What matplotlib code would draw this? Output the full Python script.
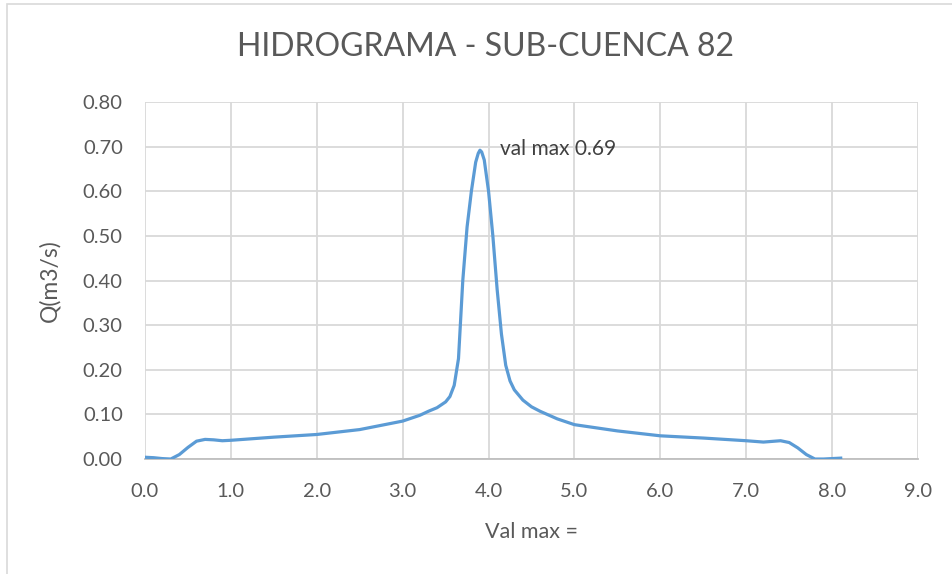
import matplotlib.pyplot as plt
from matplotlib.patches import Rectangle

plt.rcParams['font.family'] = ['Lato', 'DejaVu Sans']

# tiempo (h) y caudal (m3/s)
t = [0.0, 0.1, 0.2, 0.3, 0.4, 0.5, 0.6, 0.7, 0.8, 0.9, 1.0, 1.5, 2.0, 2.5,
     3.0, 3.2, 3.3, 3.4, 3.5, 3.55, 3.6, 3.65, 3.7, 3.75, 3.8, 3.85, 3.88,
     3.9, 3.92, 3.95, 4.0, 4.05, 4.1, 4.15, 4.2, 4.25, 4.3, 4.4, 4.5, 4.6,
     4.8, 5.0, 5.5, 6.0, 6.5, 7.0, 7.2, 7.4, 7.5, 7.6, 7.7, 7.8, 7.9, 8.0, 8.1]
q = [0.004, 0.003, 0.001, 0.000, 0.010, 0.026, 0.040, 0.044, 0.043, 0.041,
     0.042, 0.049, 0.055, 0.066, 0.085, 0.098, 0.107, 0.115, 0.128, 0.140,
     0.165, 0.225, 0.400, 0.520, 0.600, 0.665, 0.685, 0.692, 0.688, 0.670,
     0.600, 0.500, 0.380, 0.280, 0.210, 0.175, 0.155, 0.132, 0.117, 0.107,
     0.090, 0.077, 0.063, 0.052, 0.047, 0.041, 0.038, 0.041, 0.037, 0.025,
     0.010, 0.000, 0.000, 0.001, 0.002]

xticks = [0, 1, 2, 3, 4, 5, 6, 7, 8, 9]
yticks = [0.0, 0.1, 0.2, 0.3, 0.4, 0.5, 0.6, 0.7, 0.8]
qmax = 0.69

gris = '#595959'

fig = plt.figure(figsize=(9.52, 5.74), dpi=100)
fig.patches.append(Rectangle((0.007, -0.01), 1.1, 1.003, transform=fig.transFigure,
                             fill=False, edgecolor='#D9D9D9', lw=1.2))
ax = fig.add_axes([0.1523, 0.2003, 0.8120, 0.6220])

ax.plot(t, q, color='#5B9BD5', lw=2.3, solid_joinstyle='round', zorder=3)
ax.text(4.13, 0.695, 'val max ' + f'{qmax:.2f}', fontsize=15, color='#404040',
        va='center', ha='left')

ax.set_xlim(0, 9)
ax.set_ylim(0, 0.8)
ax.set_xticks(xticks)
ax.set_yticks(yticks)
ax.set_xticklabels([f'{v:.1f}' for v in xticks])
ax.set_yticklabels([f'{v:.2f}' for v in yticks])
ax.tick_params(length=0, labelsize=14.5, colors=gris)
ax.tick_params(axis='y', pad=16)
ax.tick_params(axis='x', pad=17)
ax.grid(True, color='#D9D9D9', lw=1.3)
ax.set_axisbelow(True)
for s in ['top', 'right', 'left']:
    ax.spines[s].set_visible(False)
ax.spines['bottom'].set_color('#BFBFBF')
ax.spines['bottom'].set_linewidth(1.3)

ax.set_xlabel('Val max =', fontsize=15.5, color=gris, labelpad=16)
ax.set_ylabel('Q(m3/s)', fontsize=16.5, color=gris, labelpad=16)
fig.text(0.51, 0.918, 'HIDROGRAMA - SUB-CUENCA 82', fontsize=23, color=gris,
         ha='center', va='center')

fig.savefig('out.png', dpi=100)
